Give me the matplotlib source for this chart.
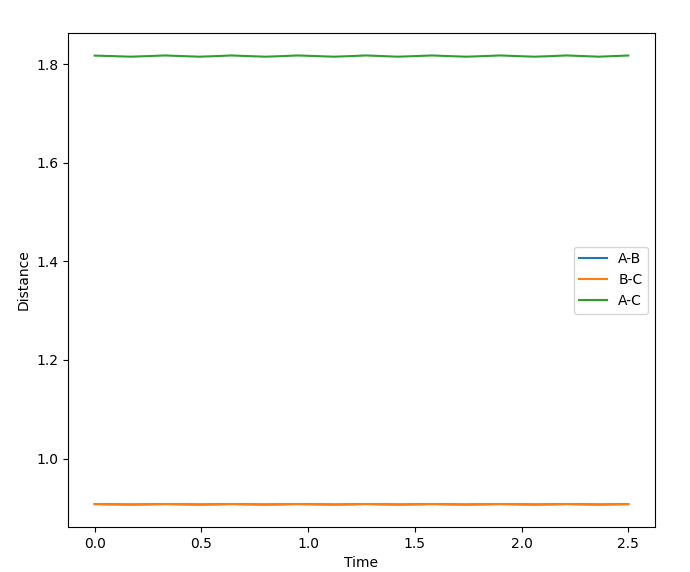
import matplotlib
matplotlib.use("Agg")
import matplotlib.pyplot as plt

time = [0.0, 0.08, 0.17, 0.25, 0.33, 0.41, 0.49, 0.57, 0.64, 0.72, 0.80,
        0.88, 0.95, 1.04, 1.12, 1.20, 1.27, 1.35, 1.42, 1.50, 1.58, 1.66,
        1.74, 1.82, 1.90, 1.98, 2.06, 2.14, 2.21, 2.29, 2.36, 2.43, 2.50]

# peak / mid / trough pattern
ac = [1.8172, 1.8162, 1.8150, 1.8162, 1.8175, 1.8162, 1.8150, 1.8162, 1.8175,
      1.8162, 1.8150, 1.8162, 1.8175, 1.8162, 1.8150, 1.8162, 1.8175, 1.8162,
      1.8150, 1.8162, 1.8175, 1.8162, 1.8150, 1.8162, 1.8175, 1.8162, 1.8150,
      1.8162, 1.8175, 1.8162, 1.8150, 1.8162, 1.8174]
bc = [0.9077, 0.9073, 0.9068, 0.9073, 0.9078, 0.9073, 0.9068, 0.9073, 0.9078,
      0.9073, 0.9068, 0.9073, 0.9078, 0.9073, 0.9068, 0.9073, 0.9078, 0.9073,
      0.9068, 0.9073, 0.9078, 0.9073, 0.9068, 0.9073, 0.9078, 0.9073, 0.9068,
      0.9073, 0.9078, 0.9073, 0.9068, 0.9073, 0.9077]
ab = list(bc)

fig = plt.figure(figsize=(6.9, 5.72), dpi=100)
ax = fig.add_axes([68/690, 1-527/572, (655-68)/690, (527-33)/572])

ax.plot(time, ab, label="A-B")
ax.plot(time, bc, label="B-C")
ax.plot(time, ac, label="A-C")

ax.set_xlabel("Time")
ax.set_ylabel("Distance")
ax.legend(loc="center right")

fig.savefig("out.png", dpi=100)
